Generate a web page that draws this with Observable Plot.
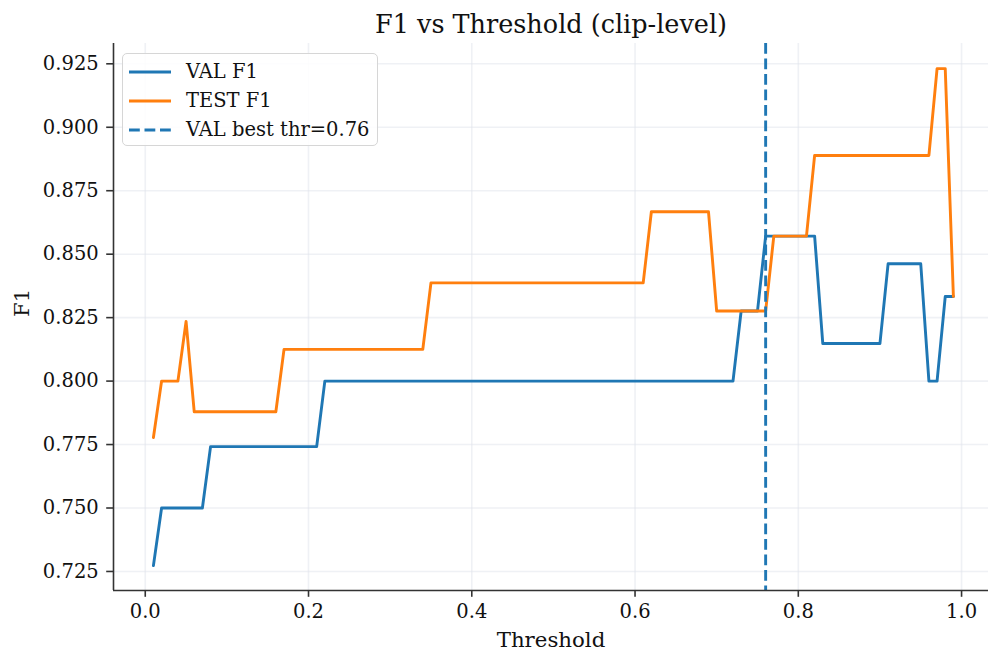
<!DOCTYPE html>
<html><head><meta charset="utf-8">
<script src="https://cdn.jsdelivr.net/npm/d3@7"></script>
<script src="https://cdn.jsdelivr.net/npm/@observablehq/plot@0.6"></script>
<style>
body{margin:0;background:#fff;}
#wrap{position:relative;width:989px;height:652px;font-family:"DejaVu Serif",serif;}
#legend{position:absolute;left:122px;top:53px;width:254px;height:91px;border:1.5px solid #d6d6d6;border-radius:5px;background:rgba(255,255,255,0.85);font-family:"DejaVu Serif",serif;font-size:19.5px;color:#111;}
.row{position:absolute;left:6px;height:29px;display:flex;align-items:center;}
.row svg{margin-right:15px;}
</style></head><body><div id="wrap"><div id="legend"></div></div>
<script>
const title = "F1 vs Threshold (clip-level)";
const xLabel = "Threshold";
const yLabel = "F1";
const thresholds = [0.01,0.02,0.03,0.04,0.05,0.06,0.07,0.08,0.09,0.10,
  0.11,0.12,0.13,0.14,0.15,0.16,0.17,0.18,0.19,0.20,
  0.21,0.22,0.23,0.24,0.25,0.26,0.27,0.28,0.29,0.30,
  0.31,0.32,0.33,0.34,0.35,0.36,0.37,0.38,0.39,0.40,
  0.41,0.42,0.43,0.44,0.45,0.46,0.47,0.48,0.49,0.50,
  0.51,0.52,0.53,0.54,0.55,0.56,0.57,0.58,0.59,0.60,
  0.61,0.62,0.63,0.64,0.65,0.66,0.67,0.68,0.69,0.70,
  0.71,0.72,0.73,0.74,0.75,0.76,0.77,0.78,0.79,0.80,
  0.81,0.82,0.83,0.84,0.85,0.86,0.87,0.88,0.89,0.90,
  0.91,0.92,0.93,0.94,0.95,0.96,0.97,0.98,0.99];
const valF1 = [0.7273,0.75,0.75,0.75,0.75,0.75,0.75,0.7742,0.7742,0.7742,
  0.7742,0.7742,0.7742,0.7742,0.7742,0.7742,0.7742,0.7742,0.7742,0.7742,
  0.7742,0.80,0.80,0.80,0.80,0.80,0.80,0.80,0.80,0.80,
  0.80,0.80,0.80,0.80,0.80,0.80,0.80,0.80,0.80,0.80,
  0.80,0.80,0.80,0.80,0.80,0.80,0.80,0.80,0.80,0.80,
  0.80,0.80,0.80,0.80,0.80,0.80,0.80,0.80,0.80,0.80,
  0.80,0.80,0.80,0.80,0.80,0.80,0.80,0.80,0.80,0.80,
  0.80,0.80,0.8276,0.8276,0.8276,0.8571,0.8571,0.8571,0.8571,0.8571,
  0.8571,0.8571,0.8148,0.8148,0.8148,0.8148,0.8148,0.8148,0.8148,0.8148,
  0.8462,0.8462,0.8462,0.8462,0.8462,0.80,0.80,0.8333,0.8333];
const testF1 = [0.7778,0.80,0.80,0.80,0.8235,0.7879,0.7879,0.7879,0.7879,0.7879,
  0.7879,0.7879,0.7879,0.7879,0.7879,0.7879,0.8125,0.8125,0.8125,0.8125,
  0.8125,0.8125,0.8125,0.8125,0.8125,0.8125,0.8125,0.8125,0.8125,0.8125,
  0.8125,0.8125,0.8125,0.8125,0.8387,0.8387,0.8387,0.8387,0.8387,0.8387,
  0.8387,0.8387,0.8387,0.8387,0.8387,0.8387,0.8387,0.8387,0.8387,0.8387,
  0.8387,0.8387,0.8387,0.8387,0.8387,0.8387,0.8387,0.8387,0.8387,0.8387,
  0.8387,0.8667,0.8667,0.8667,0.8667,0.8667,0.8667,0.8667,0.8667,0.8276,
  0.8276,0.8276,0.8276,0.8276,0.8276,0.8276,0.8571,0.8571,0.8571,0.8571,
  0.8571,0.8889,0.8889,0.8889,0.8889,0.8889,0.8889,0.8889,0.8889,0.8889,
  0.8889,0.8889,0.8889,0.8889,0.8889,0.8889,0.9231,0.9231,0.8333];
const bestThr = 0.76;
const seriesNames = ["VAL F1", "TEST F1", "VAL best thr=0.76"];
const colors = ["#1f77b4", "#ff7f0e", "#1f77b4"];
const xTicks = [0.0, 0.2, 0.4, 0.6, 0.8, 1.0];
const yTicks = [0.725, 0.750, 0.775, 0.800, 0.825, 0.850, 0.875, 0.900, 0.925];
const xDomain = [-0.0389, 1.033];
const yDomain = [0.7175, 0.933];

const valData = thresholds.map((t, i) => ({t, f: valF1[i]}));
const testData = thresholds.map((t, i) => ({t, f: testF1[i]}));

const FS = 19.5;
const LFS = 21.3;
const chart = Plot.plot({
  width: 989, height: 652,
  marginLeft: 113, marginRight: 1, marginTop: 43, marginBottom: 62,
  style: {fontFamily: "'DejaVu Serif', serif", fontSize: FS + "px", color: "#111", background: "#fff"},
  x: {domain: xDomain},
  y: {domain: yDomain},
  marks: [
    Plot.gridX(xTicks, {stroke: "#dfe3ec", strokeOpacity: 0.5, strokeWidth: 1.6}),
    Plot.gridY(yTicks, {stroke: "#dfe3ec", strokeOpacity: 0.5, strokeWidth: 1.6}),
    Plot.line(valData, {x: "t", y: "f", stroke: colors[0], strokeWidth: 2.9}),
    Plot.line(testData, {x: "t", y: "f", stroke: colors[1], strokeWidth: 2.9}),
    Plot.ruleX([bestThr], {stroke: colors[2], strokeWidth: 2.9, strokeDasharray: "10.8,4.7"}),
    Plot.ruleX([xDomain[0]], {stroke: "#333", strokeWidth: 1.6}),
    Plot.ruleY([yDomain[0]], {stroke: "#333", strokeWidth: 1.6}),
    Plot.axisX(xTicks, {tickFormat: d3.format(".1f"), tickSize: 6.8, tickPadding: 7, strokeWidth: 1.6, stroke: "#333", fill: "#111", fontSize: FS, label: null}),
    Plot.axisY(yTicks, {tickFormat: d3.format(".3f"), tickSize: 6.8, tickPadding: 8, strokeWidth: 1.6, stroke: "#333", fill: "#111", fontSize: FS, label: null}),
    Plot.text([title], {frameAnchor: "top", dy: -11, lineAnchor: "bottom", fontSize: 25.5, fill: "#111"}),
    Plot.text([xLabel], {frameAnchor: "bottom", dy: 56, lineAnchor: "bottom", fontSize: LFS, fill: "#111"}),
    Plot.text([yLabel], {frameAnchor: "left", dx: -91, rotate: -90, lineAnchor: "middle", fontSize: LFS, fill: "#111"})
  ]
});
document.getElementById("wrap").prepend(chart);

const legend = document.getElementById("legend");
seriesNames.forEach((name, i) => {
  const row = document.createElement("div");
  row.className = "row";
  row.style.top = (3 + i * 29) + "px";
  const dash = i === 2 ? 'stroke-dasharray="10.8,4.7"' : "";
  row.innerHTML = `<svg width="42" height="6"><line x1="0" y1="3" x2="42" y2="3" stroke="${colors[i]}" stroke-width="2.9" ${dash}/></svg><span>${name}</span>`;
  legend.appendChild(row);
});
</script></body></html>
